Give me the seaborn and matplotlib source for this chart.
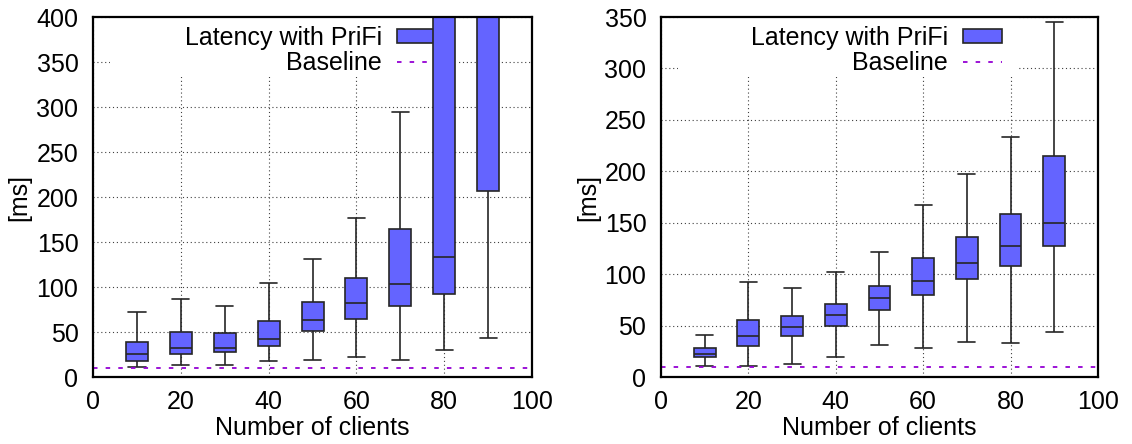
import numpy as np
import pandas as pd
import matplotlib
matplotlib.use("Agg")
import matplotlib.pyplot as plt
from matplotlib.patches import Patch, Rectangle
from matplotlib.lines import Line2D
import seaborn as sns

# ===================== data =====================
clients = [10, 20, 30, 40, 50, 60, 70, 80, 90]

# left panel (values above 400 are cut off by the axis)
left_low = [11.5, 13.3, 13.3, 17.4, 18.5, 22, 19, 30, 43]
left_q1 = [17.4, 25.5, 27.4, 34, 51.5, 65, 78.5, 92, 207]
left_med = [25.5, 32.6, 32.6, 42.6, 63, 82, 103, 133, 450]
left_q3 = [39, 50, 48.5, 62, 83, 110, 165, 520, 700]
left_high = [72, 87, 79, 104, 131.5, 177, 294, 900, 1100]

# right panel
right_low = [11, 11, 12.4, 19, 31, 28, 34, 33.2, 43.3]
right_q1 = [19, 30, 40, 50, 65, 80, 95.4, 108.4, 127.3]
right_med = [22, 39.4, 48.5, 60.5, 76.5, 93.4, 111, 127.3, 149.7]
right_q3 = [28.3, 55, 59, 71, 88, 115.6, 136.4, 158.5, 214.8]
right_high = [41.3, 92, 87, 102, 122, 167.6, 197.6, 233.7, 344.7]

baseline = 10.0

x_ticks = [0, 20, 40, 60, 80, 100]
left_yticks = [0, 50, 100, 150, 200, 250, 300, 350, 400]
right_yticks = [0, 50, 100, 150, 200, 250, 300, 350]

box_color = "#6464ff"
base_color = "#9400d3"


def to_long(low, q1, med, q3, high):
    # five points per group -> quartiles fall exactly on q1/med/q3, whiskers on min/max
    rows = []
    for i, c in enumerate(clients):
        for v in (low[i], q1[i], med[i], q3[i], high[i]):
            rows.append({"clients": c, "latency": v})
    return pd.DataFrame(rows)


df_left = to_long(left_low, left_q1, left_med, left_q3, left_high)
df_right = to_long(right_low, right_q1, right_med, right_q3, right_high)

# ===================== figure =====================
sns.set_theme(style="white")
plt.rcParams["font.family"] = ["Liberation Sans", "DejaVu Sans"]
plt.rcParams["text.color"] = "black"
plt.rcParams["axes.labelcolor"] = "black"

fig = plt.figure(figsize=(11.32, 4.44), dpi=100)
ax_l = fig.add_axes([0.0822, 0.1509, 0.3878, 0.8108])
ax_r = fig.add_axes([0.5839, 0.1509, 0.3860, 0.8108])

panels = [
    (ax_l, df_left, left_yticks, 400, 0.829),
    (ax_r, df_right, right_yticks, 350, 0.815),
]

for ax, df, yticks, ymax, mask_right in panels:
    sns.boxplot(data=df, x="clients", y="latency", native_scale=True,
                width=0.5, whis=(0, 100), color=box_color, saturation=1,
                linecolor="#262626", linewidth=1.2, capwidths=3.9, ax=ax)

    ax.axhline(baseline, color=base_color, lw=1.3,
               linestyle=(0, (2.5, 4.5)), zorder=2.5)

    ax.set_xlim(0, 100)
    ax.set_ylim(0, ymax)
    ax.set_xticks(x_ticks)
    ax.set_yticks(yticks)
    ax.set_xlabel("Number of clients", fontsize=18, labelpad=2)
    ax.set_ylabel("[ms]", fontsize=18)
    ax.yaxis.set_label_coords(-0.14, 0.5)

    ax.set_axisbelow(True)
    ax.grid(True, color="0.25", linestyle=(0, (1, 2.5)), linewidth=0.8)
    ax.tick_params(direction="in", length=5, width=1, top=False, right=False,
                   labelsize=18, colors="black")
    ax.tick_params(axis="x", pad=9)
    ax.tick_params(axis="y", pad=10.5)
    for s in ax.spines.values():
        s.set_linewidth(1.6)
        s.set_color("black")

    # white key area hiding the grid (as in gnuplot)
    ax.add_patch(Rectangle((0.038, 0.833), mask_right - 0.038, 0.167,
                           transform=ax.transAxes, facecolor="white",
                           edgecolor="none", zorder=1.5))

    handles = [
        Patch(facecolor=box_color, edgecolor="#262626", linewidth=1.2),
        Line2D([], [], color=base_color, lw=1.3, linestyle=(0, (2.5, 4.5))),
    ]
    leg = ax.legend(handles, ["Latency with PriFi", "Baseline"],
                    loc="upper right", bbox_to_anchor=(0.78, 0.975),
                    frameon=False, fontsize=18, markerfirst=False,
                    handlelength=1.55, handleheight=0.5, handletextpad=0.6,
                    labelspacing=0.04, borderpad=0, borderaxespad=0)
    leg.set_zorder(1.8)

fig.savefig("out.png", dpi=100)
